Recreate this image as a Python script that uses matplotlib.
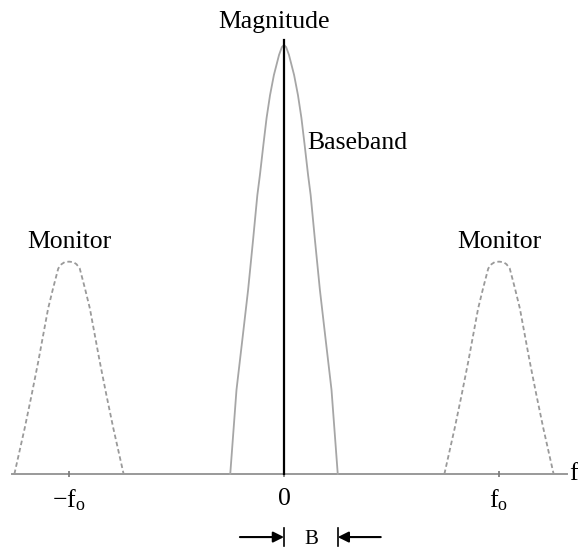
import numpy as np
import matplotlib
matplotlib.use("Agg")
import matplotlib.pyplot as plt

plt.rcParams['font.family'] = ['Liberation Serif', 'DejaVu Serif']
plt.rcParams['mathtext.fontset'] = 'custom'
plt.rcParams['mathtext.rm'] = 'Liberation Serif'
plt.rcParams['mathtext.it'] = 'Liberation Serif:italic'

# half profiles (offset from centre, relative magnitude)
bb_off = [0, 0.01, 0.023, 0.047, 0.065, 0.081, 0.096, 0.112, 0.124, 0.144, 0.167, 0.194, 0.221, 0.25]
bb_mag = [1.0, 0.995, 0.977, 0.930, 0.883, 0.830, 0.767, 0.697, 0.650, 0.545, 0.429, 0.312, 0.196, 0.0]
mon_off = [0, 0.02, 0.035, 0.05, 0.074, 0.097, 0.12, 0.143, 0.174, 0.206, 0.254]
mon_mag = [0.495, 0.494, 0.489, 0.479, 0.433, 0.386, 0.324, 0.262, 0.184, 0.107, 0.0]
mon_centres = [-1.0, 1.0]
tick_pos = [-1.0, 0.0, 1.0]
tick_labels = [r'$\mathrm{-f_o}$', '0', r'$\mathrm{f_o}$']
axis_span = (-1.265, 1.316)
mag_top = 1.012
band_b = 0.25

def mirror(off, mag):
    off = np.array(off)
    mag = np.array(mag)
    return np.concatenate([-off[::-1], off[1:]]), np.concatenate([mag[::-1], mag[1:]])

fig = plt.figure(figsize=(5.78, 5.48), dpi=100)
ax = fig.add_axes([0, 0, 1, 1])
ax.set_xlim(-284 / 215, 294 / 215)
ax.set_ylim(-74 / 429, 474 / 429)

# baseband
x, y = mirror(bb_off, bb_mag)
ax.plot(x, y, color='#a6a6a6', lw=1.3, solid_joinstyle='round')

# monitors (dashed)
mx, my = mirror(mon_off, mon_mag)
for c in mon_centres:
    ax.plot(mx + c, my, color='#9a9a9a', lw=1.3, ls=(0, (2.5, 1.6)))

# magnitude axis
ax.plot([0, 0], [0, mag_top], color='black', lw=1.6)

# frequency axis
for s in ['left', 'right', 'top']:
    ax.spines[s].set_visible(False)
ax.spines['bottom'].set_position(('data', 0))
ax.spines['bottom'].set_bounds(*axis_span)
ax.spines['bottom'].set_color('#999999')
ax.spines['bottom'].set_linewidth(1.4)
ax.spines['bottom'].set_zorder(0)
ax.set_xticks(tick_pos, tick_labels)
ax.tick_params(axis='x', direction='inout', length=4, width=1.2, color='#777777',
               pad=8, labelsize=18.5)
ax.set_yticks([])

ax.text(axis_span[1] + 0.01, 0, 'f', fontsize=18.5, ha='left', va='center')
ax.text(-0.045, 1.054, 'Magnitude', fontsize=18.5, ha='center', va='center')
ax.text(0.107, 0.772, 'Baseband', fontsize=18.5, ha='left', va='center')
for c in mon_centres:
    ax.text(c, mon_mag[0] + 0.045, 'Monitor', fontsize=18.5, ha='center', va='center')

# bandwidth marker
yb = -0.147
ax.annotate('', xy=(0, yb), xytext=(-0.205, yb),
            arrowprops=dict(arrowstyle='-|>', color='black', lw=1.5, mutation_scale=16,
                            shrinkA=0, shrinkB=0))
ax.annotate('', xy=(band_b, yb), xytext=(band_b + 0.2, yb),
            arrowprops=dict(arrowstyle='-|>', color='black', lw=1.5, mutation_scale=16,
                            shrinkA=0, shrinkB=0))
ax.plot([0, 0], [yb - 0.02, yb + 0.02], color='black', lw=1.2)
ax.plot([band_b, band_b], [yb - 0.02, yb + 0.02], color='black', lw=1.2)
ax.text(band_b / 2, yb - 0.006, 'B', fontsize=15, ha='center', va='center')

fig.savefig('out.png', dpi=100)
